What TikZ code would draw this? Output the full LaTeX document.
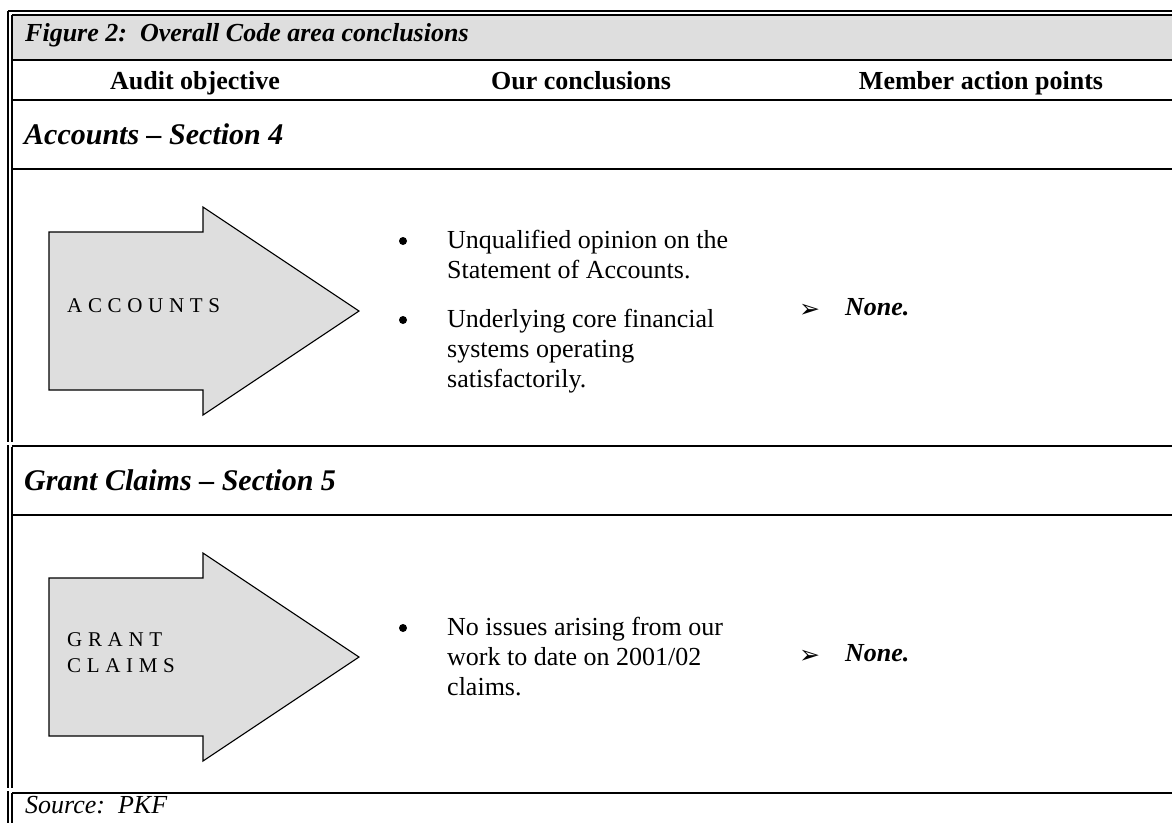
\documentclass[tikz,border=0pt]{standalone}
\usepackage{fontspec}
\setmainfont{Liberation Serif}
\newfontfamily\symfont{DejaVu Sans}
\begin{document}
\begin{tikzpicture}[x=1pt,y=-1pt,
  rule/.style={line width=2pt},
  frame/.style={line width=1.3pt},
  bigarrow/.style={fill=black!13,draw=black,line width=1.1pt,line join=miter},
  txt/.style={inner sep=0pt,anchor=base west,font=\fontsize{26}{30}\selectfont},
  head/.style={inner sep=0pt,anchor=base,font=\fontsize{26}{30}\selectfont\bfseries},
  title/.style={inner sep=0pt,anchor=base west,font=\fontsize{26}{30}\selectfont\bfseries\itshape},
  section/.style={inner sep=0pt,anchor=base west,font=\fontsize{30}{34}\selectfont\bfseries\itshape},
  none/.style={inner sep=0pt,anchor=base west,font=\fontsize{26}{30}\selectfont\bfseries\itshape},
  arrowlabel/.style={inner sep=0pt,anchor=base west,font=\fontsize{21}{25}\selectfont\addfontfeatures{LetterSpace=27}},
  dot/.style={circle,fill=black,inner sep=0pt,minimum size=8pt},
  pointer/.style={inner sep=0pt,anchor=base west,font=\symfont\fontsize{25}{28}\selectfont}
]
\useasboundingbox (0,0) rectangle (1172,823);

% title band
\fill[black!13] (12,15) rectangle (1172,60);

% double frame, top and left
\draw[frame] (8,11) -- (1172,11);
\draw[frame] (12,15) -- (1172,15);
\draw[frame] (8,11) -- (8,442);
\draw[frame] (8,445) -- (8,788);
\draw[frame] (8,791) -- (8,823);
\draw[frame] (12,15) -- (12,442);
\draw[frame] (12,447) -- (12,788);
\draw[frame] (12,793) -- (12,823);

% row rules
\foreach \yy in {60,100,169,446,515,793}
  \draw[rule] (12,\yy) -- (1172,\yy);

% heading rows
\node[title] (fig) at (25,41) {Figure 2:\ \ Overall Code area conclusions};
\node[head] (h1) at (195,89.5) {Audit objective};
\node[head] (h2) at (581,89.5) {Our conclusions};
\node[head] (h3) at (981,89.5) {Member action points};

% Accounts section
\node[section] (s4) at (24,144) {Accounts – Section 4};
\draw[bigarrow] (49,232) -- (203,232) -- (203,207) -- (359,311) -- (203,415) -- (203,390) -- (49,390) -- cycle;
\node[arrowlabel] (acc) at (67,312) {ACCOUNTS};

\node[dot] (b1) at (403,241) {};
\node[txt] (a1) at (447,248) {Unqualified opinion on the};
\node[txt] (a2) at (447,278) {Statement of Accounts.};
\node[dot] (b2) at (403,320) {};
\node[txt] (a3) at (447,327) {Underlying core financial};
\node[txt] (a4) at (447,357) {systems operating};
\node[txt] (a5) at (447,387) {satisfactorily.};

\node[pointer] (p1) at (799,317) {➢};
\node[none] (n1) at (845,315) {None.};

% Grant claims section
\node[section] (s5) at (24,490) {Grant Claims – Section 5};
\draw[bigarrow] (49,578) -- (203,578) -- (203,553) -- (359,657) -- (203,761) -- (203,736) -- (49,736) -- cycle;
\node[arrowlabel] (gr1) at (67,646) {GRANT};
\node[arrowlabel] (gr2) at (67,672) {CLAIMS};

\node[dot] (b3) at (403,628) {};
\node[txt] (g1) at (447,635) {No issues arising from our};
\node[txt] (g2) at (447,665) {work to date on 2001/02};
\node[txt] (g3) at (447,695) {claims.};

\node[pointer] (p2) at (799,663) {➢};
\node[none] (n2) at (845,661) {None.};

% source line
\node[txt,font=\fontsize{26}{30}\selectfont\itshape] (src) at (25,813) {Source:\ \ PKF};
\end{tikzpicture}
\end{document}
